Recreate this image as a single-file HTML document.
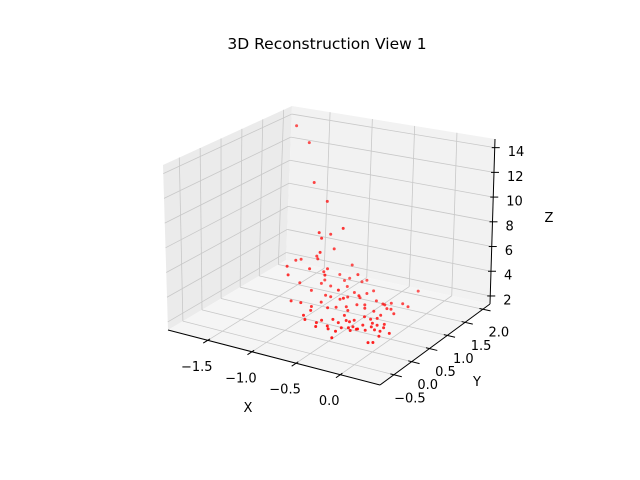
<!DOCTYPE html>
<html><head><meta charset="utf-8"><style>
html,body{margin:0;padding:0;background:#fff;}
svg{display:block;font-family:"DejaVu Sans","Liberation Sans",sans-serif;}
</style></head><body>
<svg id="chart" width="640" height="480" viewBox="0 0 640 480">
<rect width="640" height="480" fill="#fff"/>
<text x="327" y="49" text-anchor="middle" font-size="15.5" fill="#000">3D Reconstruction View 1</text>
<g id="panes"></g>
<g id="grid"></g>
<g id="axes"></g>
<g id="pts"></g>
<text x="248" y="412" text-anchor="middle" font-size="13">X</text>
<text x="477" y="386" text-anchor="middle" font-size="13">Y</text>
<text x="549" y="222" text-anchor="middle" font-size="13">Z</text>
</svg>
<script>
const xTicks=[-1.5,-1.0,-0.5,0.0];
const yTicks=[-0.5,0.0,0.5,1.0,1.5,2.0];
const zTicks=[2,4,6,8,10,12,14];
const xLabels=["−1.5","−1.0","−0.5","0.0"];
const yLabels=["−0.5","0.0","0.5","1.0","1.5","2.0"];
const zLabels=["2","4","6","8","10","12","14"];
const xs=[-1.65,-1.45,-1.2,-1.0,-0.68,-1.0,-0.95,-1.0,-0.9,-1.0,-1.1,-1.2,-1.15,-0.8,-0.6,-0.5,-0.45,
-1.41,-1.28,-1.42,-1.39,-1.02,-1.03,-0.87,-0.69,
-1.21,-1.21,-1.11,-1.14,-1.05,-1.02,-0.96,-0.88,-0.84,-1.37,-1.20,-1.03,-0.95,-0.82,-0.80,-0.77,-0.70,-0.68,-0.64,-0.50,-0.42,-0.34,-0.22,-0.15,-0.26,
-1.23,-1.11,-1.00,-0.96,-0.83,-0.75,-0.64,-0.62,-0.49,-0.39,-0.31,-0.20,-0.94,-0.92,-0.87,-0.75,-0.72,-0.62,-0.55,-0.51,-0.46,-0.40,-0.30,-0.27,-0.15,
-0.69,-0.54,-0.48,-0.46,-0.35,-0.29,-0.24,-0.15,-0.07,0.02,-0.43,-0.05,-0.01,-0.25,-0.31,-0.39,-0.59,-0.17,
-0.40,-0.33,-0.20,-0.10,-0.05,-0.60,-0.45,-0.28,-0.36,-0.55,-0.70,-0.25];
const ys=[1.7,1.6,1.2,1.1,0.8,0.9,0.85,1.2,0.7,1.3,1.1,1.3,1.0,0.6,0.5,0.4,0.7,
1.00,0.73,1.25,1.32,1.08,1.20,1.49,1.23,
1.46,1.55,1.48,1.79,1.71,1.78,1.58,1.79,1.83,1.25,1.17,1.16,1.11,1.06,1.22,1.33,1.32,1.46,1.55,1.30,1.29,1.33,1.36,1.34,1.88,
0.70,0.68,0.71,0.88,0.75,0.79,0.85,1.05,0.96,0.97,1.14,1.07,0.55,0.31,0.23,0.26,0.33,0.40,0.38,0.50,0.60,0.74,0.67,0.78,0.69,
0.10,0.08,0.14,0.25,0.23,0.29,0.38,0.42,0.38,0.42,-0.08,0.00,0.04,1.11,0.48,0.40,0.64,0.54,
0.30,0.35,0.45,0.55,0.30,0.20,0.45,0.90,1.20,1.10,0.95,0.60];
const zs=[14.2,13.2,10.9,9.8,8.6,7.6,7.3,6.9,6.5,5.5,4.9,4.6,4.2,5.0,4.3,4.0,3.7,
4.0,4.0,4.0,4.0,4.0,4.0,4.0,4.0,
2.0,2.1,1.9,2.2,2.0,2.1,1.9,2.0,2.1,2.2,2.0,1.9,2.0,2.1,2.0,2.2,1.9,2.0,2.1,2.0,1.9,2.0,2.1,2.0,2.0,
2.0,2.1,1.9,2.0,2.0,2.1,1.9,2.0,2.1,2.0,2.0,1.9,2.0,2.1,2.0,1.9,2.0,2.1,2.0,2.0,1.9,2.0,2.1,2.0,1.9,
2.0,2.1,1.9,2.0,2.0,2.1,1.9,2.0,2.1,2.0,1.9,2.0,2.0,2.1,2.0,1.9,2.0,2.1,
2.0,1.9,2.1,2.0,1.9,2.0,2.1,2.0,2.1,2.0,1.9,2.0];
</script>
<script>
const XMIN=-1.95,XMAX=0.45,YMIN=-0.89,YMAX=2.2,ZMIN=1.35,ZMAX=14.7;
const B={a:[168,330],b:[380,385],c:[490,304],d:[286,260]};
const T={a:[163,165],b:[378,211],c:[495,139],d:[292,106]};
function bil(S,u,v){
  const f=[S.a[0]+(S.b[0]-S.a[0])*u,S.a[1]+(S.b[1]-S.a[1])*u];
  const k=[S.d[0]+(S.c[0]-S.d[0])*u,S.d[1]+(S.c[1]-S.d[1])*u];
  return [f[0]+(k[0]-f[0])*v,f[1]+(k[1]-f[1])*v];
}
function proj(x,y,z){
  const u=(x-XMIN)/(XMAX-XMIN),v=(y-YMIN)/(YMAX-YMIN),w=(z-ZMIN)/(ZMAX-ZMIN);
  const p=bil(B,u,v),q=bil(T,u,v);
  return [p[0]+(q[0]-p[0])*w,p[1]+(q[1]-p[1])*w];
}
const NS="http://www.w3.org/2000/svg";
function mk(tag,attrs,parent){const e=document.createElementNS(NS,tag);for(const k in attrs)e.setAttribute(k,attrs[k]);parent.appendChild(e);return e;}
function ln(p,q,stroke,sw,parent,name){
  const e=mk('line',{x1:p[0],y1:p[1],x2:q[0],y2:q[1],stroke:stroke,'stroke-width':sw},parent);
  
  
  return e;
}
const panes=document.getElementById('panes');
function poly(pts,fill,name){
  const e=mk('polygon',{points:pts.map(p=>p.join(',')).join(' '),fill:fill},panes);
  
  
}
poly([proj(XMIN,YMIN,ZMIN),proj(XMIN,YMAX,ZMIN),proj(XMIN,YMAX,ZMAX),proj(XMIN,YMIN,ZMAX)],'#ebebeb','left-pane');
poly([proj(XMIN,YMAX,ZMIN),proj(XMAX,YMAX,ZMIN),proj(XMAX,YMAX,ZMAX),proj(XMIN,YMAX,ZMAX)],'#f2f2f2','back-pane');
poly([proj(XMIN,YMIN,ZMIN),proj(XMAX,YMIN,ZMIN),proj(XMAX,YMAX,ZMIN),proj(XMIN,YMAX,ZMIN)],'#f5f5f5','floor-pane');
const grid=document.getElementById('grid');
const gc='#c8c8c8';
xTicks.forEach(x=>{
  ln(proj(x,YMIN,ZMIN),proj(x,YMAX,ZMIN),gc,0.8,grid,'x-gridline-floor');
  ln(proj(x,YMAX,ZMIN),proj(x,YMAX,ZMAX),gc,0.8,grid,'x-gridline-back');
});
yTicks.forEach(y=>{
  ln(proj(XMIN,y,ZMIN),proj(XMAX,y,ZMIN),gc,0.8,grid,'y-gridline-floor');
  ln(proj(XMIN,y,ZMIN),proj(XMIN,y,ZMAX),gc,0.8,grid,'y-gridline-left');
});
zTicks.forEach(z=>{
  ln(proj(XMIN,YMIN,z),proj(XMIN,YMAX,z),gc,0.8,grid,'z-gridline-left');
  ln(proj(XMIN,YMAX,z),proj(XMAX,YMAX,z),gc,0.8,grid,'z-gridline-back');
});
const axes=document.getElementById('axes');
ln(proj(XMIN,YMIN,ZMIN),proj(XMAX,YMIN,ZMIN),'#000',1,axes,'x-axis-line');
ln(proj(XMAX,YMIN,ZMIN),proj(XMAX,YMAX,ZMIN),'#000',1,axes,'y-axis-line');
ln(proj(XMAX,YMAX,ZMIN),proj(XMAX,YMAX,ZMAX),'#000',1,axes,'z-axis-line');
function txt(p,s,anchor,name){
  const e=mk('text',{x:p[0],y:p[1],'text-anchor':anchor,'font-size':13,'dominant-baseline':'middle',fill:'#000'},axes);
  e.textContent=s;
  
  
}
xTicks.forEach((x,i)=>{
  const p=proj(x,YMIN,ZMIN);
  ln(proj(x,YMIN+0.06,ZMIN),proj(x,YMIN-0.12,ZMIN),'#000',1,axes,'x-tick');
  txt([p[0]-11,p[1]+27],xLabels[i],'middle','x-tick-label');
});
yTicks.forEach((y,i)=>{
  const p=proj(XMAX,y,ZMIN);
  ln(proj(XMAX-0.04,y,ZMIN),proj(XMAX+0.09,y,ZMIN),'#000',1,axes,'y-tick');
  txt([p[0]+16,p[1]+24],yLabels[i],'middle','y-tick-label');
});
zTicks.forEach((z,i)=>{
  const p=proj(XMAX,YMAX,z);
  ln([p[0]-3,p[1]],[p[0]+5,p[1]],'#000',1,axes,'z-tick');
  txt([p[0]+13,p[1]+5],zLabels[i],'start','z-tick-label');
});
const pts=document.getElementById('pts');
const order=xs.map((_,i)=>i).sort((a,b)=>ys[b]-ys[a]);
order.forEach(i=>{
  const p=proj(xs[i],ys[i],zs[i]);
  const v=(ys[i]-YMIN)/(YMAX-YMIN);
  const c=mk('circle',{cx:p[0].toFixed(1),cy:p[1].toFixed(1),r:1.5,fill:'#ff0000',opacity:(1-0.4*v).toFixed(2)},pts);
  
  
});
</script>
</body></html>
